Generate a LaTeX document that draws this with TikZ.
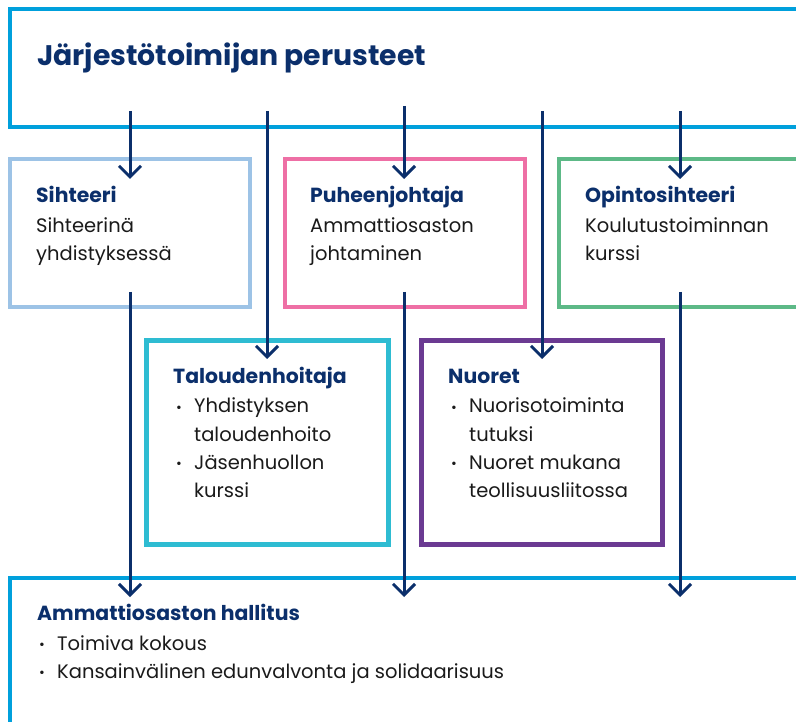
\documentclass[tikz,border=0pt]{standalone}
\usepackage{fontspec}
\setmainfont{Poppins}
\usetikzlibrary{arrows.meta}
\definecolor{navy}{HTML}{0B2F6B}
\definecolor{topblue}{HTML}{00A0DC}
\definecolor{lightblue}{HTML}{9DC3E6}
\definecolor{pinkc}{HTML}{EE6FA5}
\definecolor{greenc}{HTML}{5DB987}
\definecolor{cyanc}{HTML}{2EBCD2}
\definecolor{purplec}{HTML}{6B3A92}
\definecolor{bodytext}{HTML}{1A1A1A}
\tikzset{
  frame/.style={draw, line width=4.5pt, rectangle, outer sep=0pt, inner sep=0pt, anchor=north west},
  title/.style={anchor=base west, inner sep=0pt, text=navy, font=\fontsize{28.3}{32}\selectfont\bfseries},
  head/.style={anchor=base west, inner sep=0pt, text=navy, font=\fontsize{20.4}{24}\selectfont\bfseries},
  body/.style={anchor=base west, inner sep=0pt, text=bodytext, font=\fontsize{19.5}{24}\selectfont},
  bul/.style={anchor=base, inner sep=0pt, text=bodytext, font=\fontsize{14}{16}\selectfont},
  conn/.style={draw=navy, line width=3pt, -{Straight Barb[length=11pt,width=22pt]}},
  plain/.style={draw=navy, line width=3pt}
}
\begin{document}
\begin{tikzpicture}[x=1pt,y=-1pt]
\useasboundingbox (0,0) rectangle (796,722);
\clip (0,0) rectangle (796,722);
\fill[white] (0,0) rectangle (796,722);
% frames
\node[frame, draw=topblue, minimum width=820pt, minimum height=118pt] (top) at (10,9) {};
\node[frame, draw=lightblue, minimum width=240pt, minimum height=148pt] (sih) at (10,159) {};
\node[frame, draw=pinkc, minimum width=240pt, minimum height=148pt] (puh) at (285,159) {};
\node[frame, draw=greenc, minimum width=260pt, minimum height=148pt] (opi) at (559,159) {};
\node[frame, draw=cyanc, minimum width=242pt, minimum height=204pt] (tal) at (146.5,340.5) {};
\node[frame, draw=purplec, minimum width=241pt, minimum height=204pt] (nuo) at (421.5,340.5) {};
\node[frame, draw=topblue, minimum width=820pt, minimum height=200pt] (hal) at (10,578) {};
% texts
\node[title] (ttitle) at (37,66) {Järjestötoimijan perusteet};
\node[head] (hsih) at (36,203) {Sihteeri};
\node[body] (bsih1) at (36,233) {Sihteerinä};
\node[body] (bsih2) at (36,261) {yhdistyksessä};
\node[head] (hpuh) at (310,203) {Puheenjohtaja};
\node[body] (bpuh1) at (310,233) {Ammattiosaston};
\node[body] (bpuh2) at (310,261) {johtaminen};
\node[head] (hopi) at (585,203) {Opintosihteeri};
\node[body] (bopi1) at (585,233) {Koulutustoiminnan};
\node[body] (bopi2) at (585,261) {kurssi};
\node[head] (htal) at (173,384) {Taloudenhoitaja};
\node[bul] (dtal1) at (179,412) {•};
\node[body] (btal1) at (194,413) {Yhdistyksen};
\node[body] (btal2) at (194,441) {taloudenhoito};
\node[bul] (dtal2) at (179,468) {•};
\node[body] (btal3) at (194,469) {Jäsenhuollon};
\node[body] (btal4) at (194,497) {kurssi};
\node[head] (hnuo) at (448,384) {Nuoret};
\node[bul] (dnuo1) at (454,412) {•};
\node[body] (bnuo1) at (469,413) {Nuorisotoiminta};
\node[body] (bnuo2) at (469,441) {tutuksi};
\node[bul] (dnuo2) at (454,468) {•};
\node[body] (bnuo3) at (469,469) {Nuoret mukana};
\node[body] (bnuo4) at (469,497) {teollisuusliitossa};
\node[head] (hhal) at (37,620) {Ammattiosaston hallitus};
\node[bul] (dhal1) at (42,649) {•};
\node[body] (bhal1) at (57,650) {Toimiva kokous};
\node[bul] (dhal2) at (42,677) {•};
\node[body] (bhal2) at (57,678) {Kansainvälinen edunvalvonta ja solidaarisuus};
% connector end points
\coordinate (s1) at (130,111); \coordinate (e1) at (130,179);
\coordinate (s2) at (267,111); \coordinate (e2) at (267,359);
\coordinate (s3) at (404,106); \coordinate (e3) at (404,179);
\coordinate (s4) at (542,111); \coordinate (e4) at (542,359);
\coordinate (s5) at (680,111); \coordinate (e5) at (680,179);
\coordinate (u1) at (130,292); \coordinate (f1) at (130,597);
\coordinate (u2) at (404,292); \coordinate (f2) at (404,597);
\coordinate (u3) at (680,292); \coordinate (f3) at (680,597);
\draw[conn] (s1) -- (e1);
\draw[conn] (s2) -- (e2);
\draw[conn] (s3) -- (e3);
\draw[conn] (s4) -- (e4);
\draw[conn] (s5) -- (e5);
\draw[conn] (u1) -- (f1);
\draw[conn] (u2) -- (f2);
\draw[conn] (u3) -- (f3);
\end{tikzpicture}
\end{document}
